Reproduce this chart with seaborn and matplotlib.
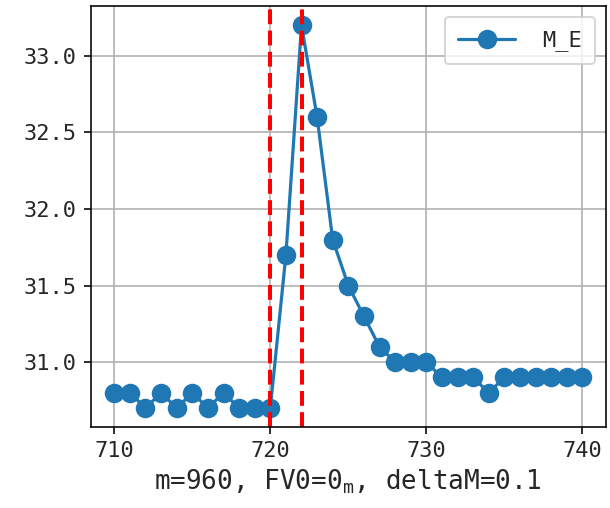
import numpy as np
import pandas as pd
import seaborn as sns
import matplotlib.pyplot as plt

# sample index and M_E values
steps = list(range(710, 741))
m_e = [30.8, 30.8, 30.7, 30.8, 30.7, 30.8, 30.7, 30.8, 30.7, 30.7,
       30.7, 31.7, 33.2, 32.6, 31.8, 31.5, 31.3, 31.1, 31.0, 31.0,
       31.0, 30.9, 30.9, 30.9, 30.8, 30.9, 30.9, 30.9, 30.9, 30.9, 30.9]
marks = [720, 722]  # red dashed reference lines
xlabel = "m=960, FV0=0$_m$, deltaM=0.1"

sns.set_style("ticks")
plt.rcParams["font.family"] = ["DejaVu Sans Mono", "DejaVu Sans"]
plt.rcParams["mathtext.default"] = "regular"

df = pd.DataFrame({"step": steps, "M_E": m_e})

fig, ax = plt.subplots(figsize=(610 / 144, 508 / 144), dpi=144)
fig.subplots_adjust(left=0.149, right=0.993, top=0.988, bottom=0.159)

blue = "#1f77b4"
sns.lineplot(data=df, x="step", y="M_E", marker="o", color=blue, lw=1.6,
             markersize=9, markeredgecolor=blue, label="M_E", ax=ax)
for v in marks:
    ax.axvline(v, color="red", ls="--", lw=2.0)

ax.grid(True, color="#b0b0b0", lw=0.8)
for s in ax.spines.values():
    s.set_color("black")
    s.set_linewidth(0.8)
ax.tick_params(labelsize=11, length=3.5, width=0.8, color="black")
ax.set_xticks([710, 720, 730, 740])
ax.set_yticks([31.0, 31.5, 32.0, 32.5, 33.0])
ax.set_ylabel("")
ax.set_xlabel(xlabel, fontsize=13, labelpad=3)
ax.legend(loc="upper right", fontsize=11, handletextpad=1.2,
          handlelength=2.6, borderpad=0.6)

fig.savefig("out.png", dpi=144)
